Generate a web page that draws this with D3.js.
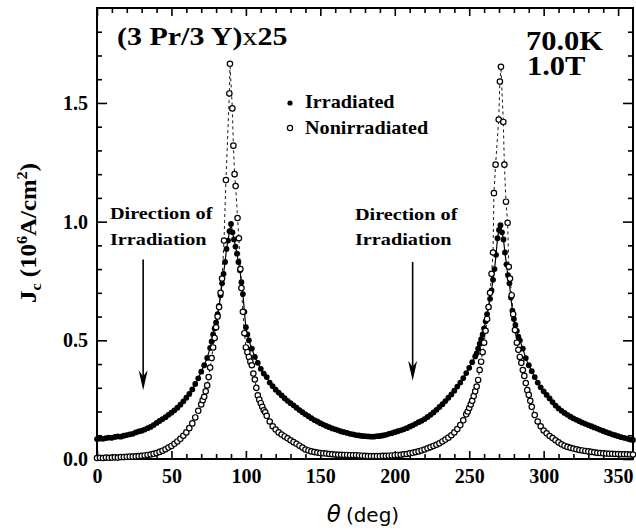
<!DOCTYPE html>
<html>
<head>
<meta charset="utf-8">
<script src="https://cdn.jsdelivr.net/npm/d3@7"></script>
<style>
  body { margin: 0; background: #fff; }
  svg { display: block; }
</style>
</head>
<body>
<div id="chart"></div>
<script>
// Irradiated sample: [theta (deg), Jc (10^6 A/cm^2)]
const irradiated = [
  [0,.084],[2,.086],[4,.085],[6,.088],[8,.090],[10,.089],[12,.093],[14,.095],[16,.094],[18,.098],
  [20,.101],[22,.104],[24,.106],[26,.112],[28,.116],[30,.119],[32,.124],[34,.130],[36,.135],[38,.143],
  [40,.152],[42,.160],[44,.168],[46,.176],[48,.186],[50,.195],[52,.205],[54,.216],[56,.229],[58,.243],
  [60,.258],[62,.274],[64,.293],[66,.316],[68,.340],[70,.368],[72,.395],[74,.426],[76,.468],[77,.495],
  [78,.525],[79,.550],[80,.575],[81,.610],[82,.645],[83,.690],[84,.740],[85,.780],[86,.830],[87,.885],
  [88,.920],[89,.960],[90,.990],[91,.955],[92,.925],[93,.895],[94,.865],[95,.830],[96,.795],[97,.745],
  [98,.695],[99,.620],[100,.555],[101,.525],[102,.500],[104,.465],[106,.430],[108,.405],[110,.380],[112,.360],
  [114,.345],[116,.322],[118,.307],[120,.292],[122,.280],[124,.268],[126,.256],[128,.245],[130,.235],[132,.226],
  [134,.216],[136,.206],[138,.197],[140,.188],[142,.180],[144,.172],[146,.164],[148,.158],[150,.151],[152,.145],
  [154,.139],[156,.134],[158,.129],[160,.125],[162,.121],[164,.116],[166,.113],[168,.110],[170,.106],[172,.104],
  [174,.101],[176,.099],[178,.097],[180,.096],[182,.095],[184,.094],[186,.094],[188,.096],[190,.097],[192,.099],
  [194,.102],[196,.106],[198,.109],[200,.113],[202,.117],[204,.121],[206,.125],[208,.130],[210,.136],[212,.142],
  [214,.148],[216,.155],[218,.161],[220,.168],[222,.177],[224,.186],[226,.196],[228,.207],[230,.219],[232,.231],
  [234,.244],[236,.258],[238,.272],[240,.288],[242,.305],[244,.322],[246,.341],[248,.362],[250,.384],[252,.408],
  [254,.432],[255,.445],[256,.465],[257,.485],[258,.505],[259,.525],[260,.550],[261,.580],[262,.610],[263,.640],
  [264,.675],[265,.710],[266,.755],[267,.800],[268,.860],[269,.930],[270,.965],[271,.985],[272,.955],[273,.925],
  [274,.870],[275,.820],[276,.775],[277,.740],[278,.680],[279,.625],[280,.590],[281,.565],[282,.540],[283,.515],
  [284,.500],[286,.465],[288,.425],[290,.395],[292,.370],[294,.345],[296,.322],[298,.302],[300,.285],[302,.270],
  [304,.255],[306,.240],[308,.225],[310,.213],[312,.203],[314,.194],[316,.186],[318,.178],[320,.171],[322,.165],
  [324,.159],[326,.153],[328,.148],[330,.143],[332,.138],[334,.133],[336,.128],[338,.123],[340,.118],[342,.113],
  [344,.109],[346,.104],[348,.100],[350,.096],[352,.092],[354,.089],[356,.086],[358,.082],[360,.080]
];

// Nonirradiated sample
const nonirradiated = [
  [0,.004],[2,.005],[4,.004],[6,.006],[8,.005],[10,.006],[12,.007],[14,.006],[16,.008],[18,.008],
  [20,.009],[22,.010],[24,.010],[26,.011],[28,.012],[30,.013],[32,.015],[34,.017],[36,.019],[38,.022],
  [40,.025],[42,.030],[44,.035],[46,.041],[48,.048],[50,.055],[52,.064],[54,.074],[56,.085],[58,.098],
  [60,.112],[62,.130],[64,.150],[66,.175],[68,.203],[70,.230],[71,.248],[72,.262],[73,.285],[74,.310],
  [75,.345],[76,.385],[77,.425],[78,.470],[79,.510],[80,.555],[81,.600],[82,.640],[83,.700],[84,.760],
  [85.3,.920],[86.6,1.175],[88.9,1.540],[89.3,1.665],[90.9,1.477],[91.6,1.320],[92.4,1.200],[93.1,1.150],[94.4,1.015],[95.3,.930],
  [96.3,.800],[97,.720],[98,.620],[99,.530],[100,.470],[101,.450],[102,.430],[103,.410],[104,.395],[105,.360],
  [106,.335],[107,.300],[108,.268],[109,.250],[110,.235],[111,.220],[112,.205],[113,.197],[114,.182],[116,.158],
  [118,.138],[120,.124],[122,.112],[124,.103],[126,.095],[128,.087],[130,.079],[132,.071],[134,.064],[136,.056],
  [138,.048],[140,.040],[142,.036],[144,.032],[146,.029],[148,.027],[150,.025],[152,.024],[154,.023],[156,.021],
  [158,.020],[160,.019],[162,.018],[164,.018],[166,.017],[168,.017],[170,.016],[172,.016],[174,.016],[176,.015],
  [178,.014],[180,.013],[182,.012],[184,.012],[186,.012],[188,.012],[190,.012],[192,.013],[194,.013],[196,.014],
  [198,.015],[200,.016],[202,.017],[204,.018],[206,.020],[208,.021],[210,.024],[212,.026],[214,.029],[216,.032],
  [218,.036],[220,.040],[222,.045],[224,.050],[226,.055],[228,.060],[230,.066],[232,.074],[234,.082],[236,.090],
  [238,.100],[240,.112],[242,.126],[244,.143],[246,.163],[248,.188],[249,.200],[250,.215],[251,.230],[252,.245],
  [253,.265],[254,.285],[255,.305],[256,.333],[257,.375],[258,.410],[259,.450],[260,.490],[261,.540],[262,.590],
  [263,.640],[264,.700],[265,.780],[266,.870],[266.6,1.120],[267.7,1.240],[269.8,1.430],[270.6,1.590],[271.3,1.652],[272.9,1.420],
  [273.6,1.240],[274.7,1.084],[275.8,.995],[276.6,.810],[277.4,.760],[278.5,.690],[279.5,.610],[280.7,.543],[282,.490],[283,.460],
  [284,.430],[285,.405],[286,.375],[287,.350],[288,.320],[289,.290],[290,.270],[291,.245],[292,.220],[294,.185],
  [296,.158],[298,.138],[300,.120],[302,.108],[304,.097],[306,.088],[308,.079],[310,.070],[312,.062],[314,.056],
  [316,.051],[318,.047],[320,.044],[322,.041],[324,.038],[326,.036],[328,.034],[330,.032],[332,.030],[334,.028],
  [336,.026],[338,.025],[340,.024],[342,.023],[344,.022],[346,.022],[348,.021],[350,.021],[352,.020],[354,.020],
  [356,.020],[358,.019],[360,.019]
];

const xMajorTicks = [0, 50, 100, 150, 200, 250, 300, 350];
const xMinorTicks = [10, 20, 30, 40, 60, 70, 80, 90, 110, 120, 130, 140, 160, 170, 180, 190,
                     210, 220, 230, 240, 260, 270, 280, 290, 310, 320, 330, 340];
const yMajorTicks = [0, 0.5, 1.0, 1.5];
const yMinorTicks = [0.1, 0.2, 0.3, 0.4, 0.6, 0.7, 0.8, 0.9, 1.1, 1.2, 1.3, 1.4, 1.6, 1.7, 1.8];

// Arrow annotations: theta, Jc start, Jc tip
const arrows = [
  { theta: 31, from: 0.84, to: 0.29 },
  { theta: 212, from: 0.83, to: 0.33 }
];

const width = 636, height = 531;
const margin = { top: 8, right: 3, bottom: 72, left: 97 };
const serif = '"Liberation Serif", "Times New Roman", serif';

const svg = d3.select('#chart').append('svg')
  .attr('width', width)
  .attr('height', height);

const x = d3.scaleLinear().domain([0, 360]).range([margin.left, width - margin.right]);
const y = d3.scaleLinear().domain([0, 1.9]).range([height - margin.bottom, margin.top]);

// axes (ticks point inward on all four sides)
function styleAxis(g) {
  g.select('.domain').remove();
  g.selectAll('line').attr('stroke', '#000').attr('stroke-width', 1.6);
  g.selectAll('text').attr('fill', '#000').attr('font-family', serif)
    .attr('font-weight', 'bold').attr('font-size', '20px');
}

svg.append('g').attr('transform', `translate(0,${y(0)})`)
  .call(d3.axisBottom(x).tickValues(xMajorTicks).tickSizeInner(-8).tickSizeOuter(0).tickPadding(10))
  .call(styleAxis);
svg.append('g').attr('transform', `translate(0,${y(0)})`)
  .call(d3.axisBottom(x).tickValues(xMinorTicks).tickSizeInner(-5).tickSizeOuter(0).tickFormat(''))
  .call(styleAxis);
svg.append('g').attr('transform', `translate(0,${y(1.9)})`)
  .call(d3.axisTop(x).tickValues(xMajorTicks).tickSizeInner(-8).tickSizeOuter(0).tickFormat(''))
  .call(styleAxis);
svg.append('g').attr('transform', `translate(0,${y(1.9)})`)
  .call(d3.axisTop(x).tickValues(xMinorTicks).tickSizeInner(-5).tickSizeOuter(0).tickFormat(''))
  .call(styleAxis);

svg.append('g').attr('transform', `translate(${x(0)},0)`)
  .call(d3.axisLeft(y).tickValues(yMajorTicks).tickFormat(d3.format('.1f')).tickSizeInner(-10).tickSizeOuter(0).tickPadding(9))
  .call(styleAxis);
svg.append('g').attr('transform', `translate(${x(0)},0)`)
  .call(d3.axisLeft(y).tickValues(yMinorTicks).tickSizeInner(-5).tickSizeOuter(0).tickFormat(''))
  .call(styleAxis);
svg.append('g').attr('transform', `translate(${x(360)},0)`)
  .call(d3.axisRight(y).tickValues(yMajorTicks).tickSizeInner(-10).tickSizeOuter(0).tickFormat(''))
  .call(styleAxis);
svg.append('g').attr('transform', `translate(${x(360)},0)`)
  .call(d3.axisRight(y).tickValues(yMinorTicks).tickSizeInner(-5).tickSizeOuter(0).tickFormat(''))
  .call(styleAxis);

// frame
svg.append('rect')
  .attr('x', x(0)).attr('y', y(1.9))
  .attr('width', x(360) - x(0)).attr('height', y(0) - y(1.9))
  .attr('fill', 'none').attr('stroke', '#000').attr('stroke-width', 2);

// connecting lines
const line = d3.line().x(d => x(d[0])).y(d => y(d[1]));

svg.append('path').datum(nonirradiated)
  .attr('d', line).attr('fill', 'none')
  .attr('stroke', '#000').attr('stroke-width', 0.9).attr('stroke-dasharray', '3 3');

svg.append('path').datum(irradiated)
  .attr('d', line).attr('fill', 'none')
  .attr('stroke', '#000').attr('stroke-width', 1.2);

svg.append('g').selectAll('circle')
  .data(irradiated)
  .join('circle')
    .attr('cx', d => x(d[0]))
    .attr('cy', d => y(d[1]))
    .attr('r', 2.9)
    .attr('fill', '#000');

svg.append('g').selectAll('circle')
  .data(nonirradiated)
  .join('circle')
    .attr('cx', d => x(d[0]))
    .attr('cy', d => y(d[1]))
    .attr('r', 2.7)
    .attr('fill', '#fff')
    .attr('stroke', '#000')
    .attr('stroke-width', 1.2);

// annotations: the original lettering is a wide bold Times, so stretch horizontally
const boldText = (px, py, size, sx, str) => svg.append('text')
  .attr('transform', `translate(${px},${py}) scale(${sx},1)`)
  .attr('font-family', serif).attr('font-weight', 'bold')
  .attr('font-size', size + 'px').attr('fill', '#000')
  .text(str);

const title = boldText(117, 45, 25, 1.2, '(3 Pr/3 Y)');
title.append('tspan').attr('font-weight', 'normal').text('x');
title.append('tspan').text('25');

boldText(526, 50, 27, 1.13, '70.0K');
boldText(527, 75, 27, 1.13, '1.0T');

// legend
svg.append('circle').attr('cx', 290).attr('cy', 103).attr('r', 2.6).attr('fill', '#000');
svg.append('circle').attr('cx', 290).attr('cy', 128).attr('r', 2.6)
  .attr('fill', '#fff').attr('stroke', '#000').attr('stroke-width', 1.2);
boldText(305, 108, 18, 1.12, 'Irradiated');
boldText(305, 134, 18, 1.12, 'Nonirradiated');

boldText(110, 219, 17, 1.19, 'Direction of');
boldText(110, 245, 17, 1.19, 'Irradiation');
boldText(355, 220, 17, 1.19, 'Direction of');
boldText(355, 245, 17, 1.19, 'Irradiation');

const arrowG = svg.append('g');
arrows.forEach(a => {
  const ax = x(a.theta), y0 = y(a.from), y1 = y(a.to);
  arrowG.append('line')
    .attr('x1', ax).attr('x2', ax).attr('y1', y0).attr('y2', y1 - 14)
    .attr('stroke', '#000').attr('stroke-width', 1.6);
  arrowG.append('path')
    .attr('d', `M${ax - 4.5},${y1 - 20} L${ax},${y1 - 14} L${ax + 4.5},${y1 - 20} L${ax},${y1} Z`)
    .attr('fill', '#000');
});

// axis titles
const yLab = svg.append('text')
  .attr('transform', `translate(36,${233}) rotate(-90) scale(1.08,1)`)
  .attr('text-anchor', 'middle')
  .attr('font-family', serif).attr('font-weight', 'bold')
  .attr('font-size', '23px').attr('fill', '#000');
yLab.append('tspan').text('J');
yLab.append('tspan').attr('font-size', '15px').attr('dy', 5).text('c');
yLab.append('tspan').attr('dy', -5).text(' (10');
yLab.append('tspan').attr('font-size', '15px').attr('dy', -9).text('6');
yLab.append('tspan').attr('dy', 9).text('A/cm');
yLab.append('tspan').attr('font-size', '15px').attr('dy', -9).text('2');
yLab.append('tspan').attr('dy', 9).text(')');

const xLab = svg.append('text')
  .attr('x', 363).attr('y', 522)
  .attr('text-anchor', 'middle')
  .attr('font-size', '23px').attr('fill', '#000');
xLab.append('tspan').attr('font-family', '"DejaVu Sans", sans-serif').attr('font-style', 'italic').text('θ');
xLab.append('tspan').attr('dx', 5).attr('font-family', '"DejaVu Sans", sans-serif').attr('font-size', '20px').text('(deg)');
</script>
</body>
</html>
